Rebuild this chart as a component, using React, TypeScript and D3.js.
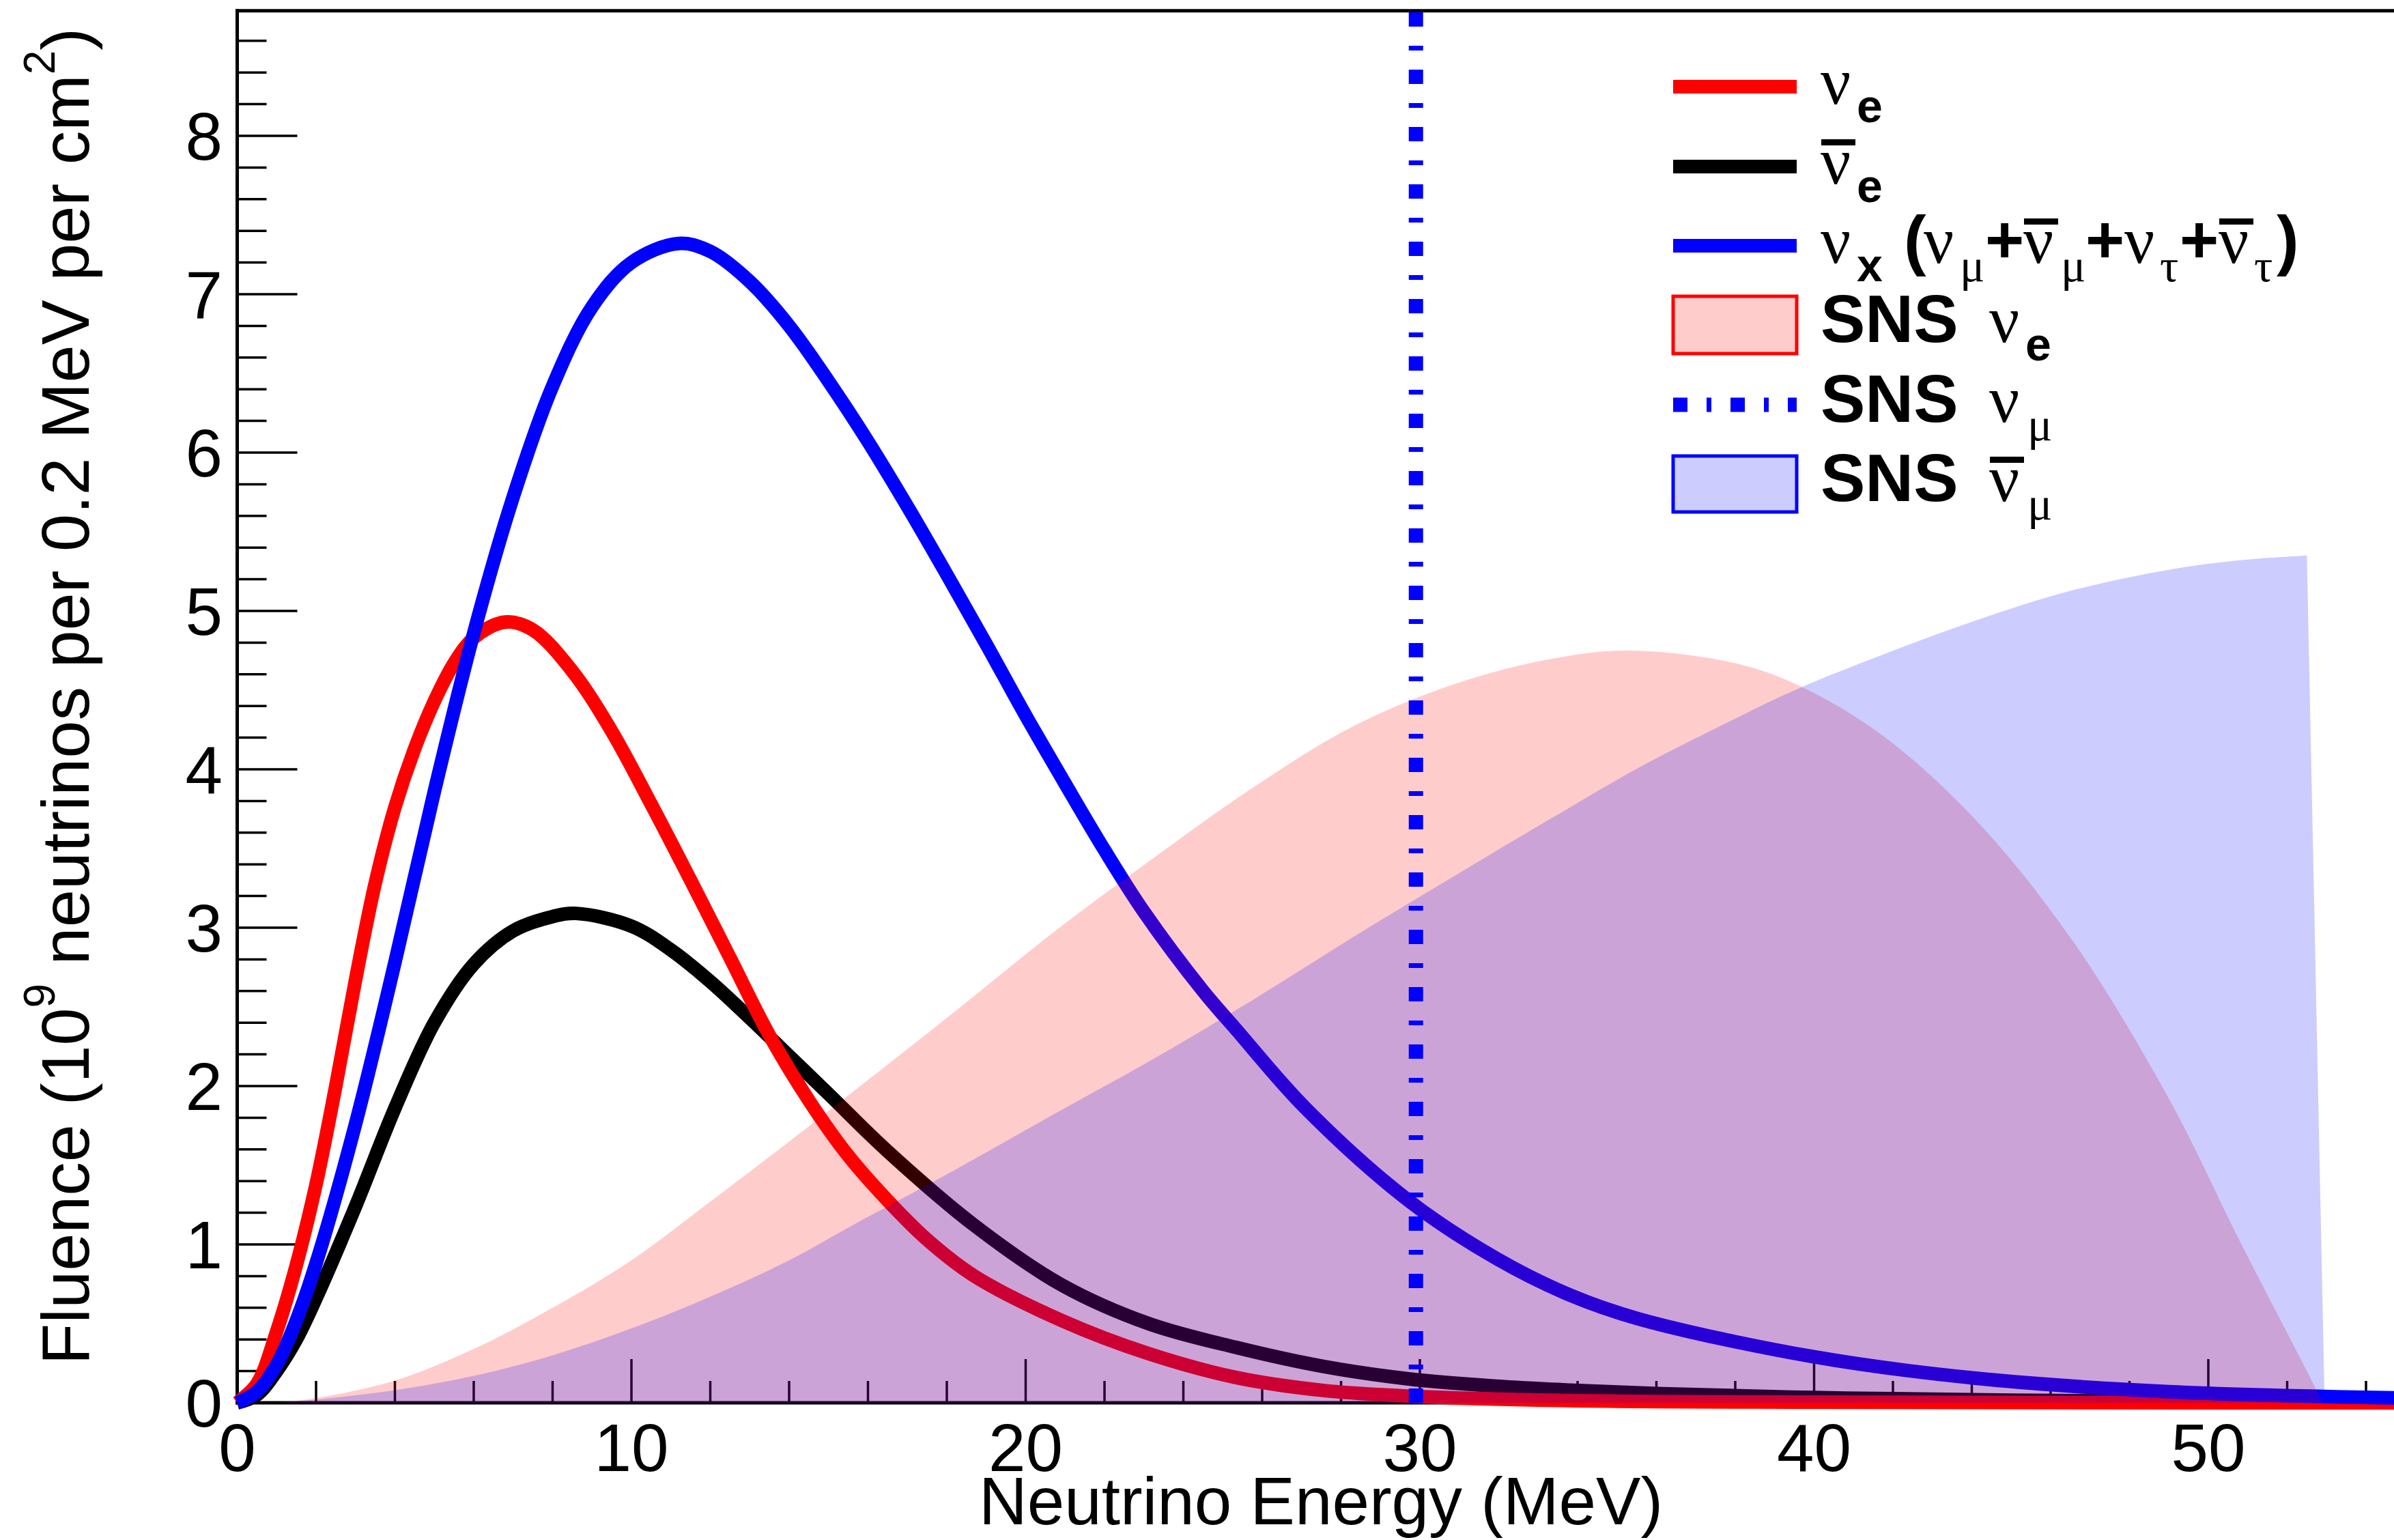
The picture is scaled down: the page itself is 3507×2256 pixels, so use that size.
import React from 'react';
import * as d3 from 'd3';

const W = 3507;
const H = 2256;

// Supernova spectra (Fluence in 10^9 per 0.2 MeV per cm^2)
const nueE = [0, 0.5, 1, 1.5, 2, 2.5, 3, 3.5, 4, 4.5, 5, 5.5, 6, 6.8, 7.5, 8.5, 9.5, 10.5, 11.5, 12.5, 13.5, 14.5, 15.5, 16.49, 17.5, 18.7, 20.91, 23.12, 25.33, 27.54, 29.75, 33.81, 40, 55];
const nueV = [0, 0.12, 0.45, 0.87, 1.38, 2.0, 2.67, 3.28, 3.76, 4.13, 4.43, 4.67, 4.83, 4.93, 4.88, 4.62, 4.24, 3.78, 3.3, 2.81, 2.32, 1.91, 1.56, 1.28, 1.03, 0.8, 0.52, 0.31, 0.16, 0.078, 0.042, 0.014, 0.004, 0];

const nuebarE = [0, 0.5, 1, 1.5, 2, 3, 4, 5, 6, 7, 8, 8.6, 10, 11, 12, 13, 14, 15, 16.49, 18.7, 20.91, 23.12, 25.33, 27.54, 29.75, 31.95, 33.81, 36, 40, 45, 55];
const nuebarV = [0, 0.05, 0.2, 0.4, 0.66, 1.24, 1.86, 2.4, 2.77, 2.98, 3.07, 3.09, 3.01, 2.86, 2.66, 2.43, 2.19, 1.95, 1.59, 1.12, 0.745, 0.5, 0.35, 0.23, 0.15, 0.105, 0.08, 0.058, 0.033, 0.016, 0.004];

const nuxE = [0, 0.5, 1, 1.5, 2, 3, 4, 5, 6, 7, 8, 9, 10, 11.2, 12, 13, 14, 15, 16, 17, 18, 19, 20, 21, 22, 23, 24.5, 25.33, 27.1, 29.75, 31.95, 33.81, 35.55, 40, 44.1, 49, 55];
const nuxV = [0, 0.07, 0.24, 0.52, 0.88, 1.76, 2.78, 3.86, 4.86, 5.72, 6.42, 6.92, 7.2, 7.32, 7.27, 7.08, 6.8, 6.45, 6.07, 5.66, 5.23, 4.79, 4.34, 3.91, 3.49, 3.1, 2.6, 2.36, 1.86, 1.27, 0.91, 0.68, 0.53, 0.29, 0.155, 0.07, 0.03];

// SNS spectra
const snsNueE = [1, 2, 4, 6, 8, 10, 12, 14, 15.6, 18.2, 20.7, 23.3, 25.8, 28.3, 30.9, 33.4, 35.3, 38, 39.6, 41.7, 44.1, 46.55, 49, 50.8, 52.5, 52.9];
const snsNueV = [0, 0.03, 0.14, 0.34, 0.6, 0.9, 1.27, 1.65, 1.96, 2.47, 2.97, 3.45, 3.89, 4.27, 4.54, 4.7, 4.75, 4.67, 4.53, 4.22, 3.68, 2.92, 1.92, 1.02, 0.2, 0];

const snsNumubarE = [1, 2, 4, 6, 8, 10, 12, 14, 15.6, 18.2, 20.7, 23.3, 25.8, 28.3, 30.9, 33.4, 35.55, 38, 39.6, 41.7, 44.1, 46.55, 49, 50.8, 52.5, 52.95];
const snsNumubarV = [0, 0.02, 0.08, 0.17, 0.3, 0.47, 0.67, 0.9, 1.12, 1.47, 1.82, 2.18, 2.55, 2.94, 3.33, 3.7, 4.01, 4.32, 4.51, 4.72, 4.94, 5.13, 5.26, 5.32, 5.35, 0];

const snsNumuE = 29.9;

const xTickLabels = ['0', '10', '20', '30', '40', '50'];
const yTickLabels = ['0', '1', '2', '3', '4', '5', '6', '7', '8'];

const SANS = '"Liberation Sans", Arial, Helvetica, sans-serif';
const SERIF = '"Liberation Serif", "Times New Roman", serif';
const FS = 98;
const SUB = 68;
const DASH = '21 28 7 28';

type Piece = { t: string; x: number; k: 'g' | 'b' | 'sb' | 'sg'; bar?: boolean };

const legendEntries: Piece[][] = [
  [
    { t: 'ν', x: 2667, k: 'g' },
    { t: 'e', x: 2720, k: 'sb' },
  ],
  [
    { t: 'ν', x: 2667, k: 'g', bar: true },
    { t: 'e', x: 2720, k: 'sb' },
  ],
  [
    { t: 'ν', x: 2667, k: 'g' },
    { t: 'x', x: 2720, k: 'sb' },
    { t: '(', x: 2789, k: 'b' },
    { t: 'ν', x: 2818, k: 'g' },
    { t: 'μ', x: 2871, k: 'sg' },
    { t: '+', x: 2908, k: 'b' },
    { t: 'ν', x: 2964, k: 'g', bar: true },
    { t: 'μ', x: 3019, k: 'sg' },
    { t: '+', x: 3055, k: 'b' },
    { t: 'ν', x: 3112, k: 'g' },
    { t: 'τ', x: 3164, k: 'sg' },
    { t: '+', x: 3193, k: 'b' },
    { t: 'ν', x: 3250, k: 'g', bar: true },
    { t: 'τ', x: 3302, k: 'sg' },
    { t: ')', x: 3335, k: 'b' },
  ],
  [
    { t: 'SNS', x: 2667, k: 'b' },
    { t: 'ν', x: 2914, k: 'g' },
    { t: 'e', x: 2967, k: 'sb' },
  ],
  [
    { t: 'SNS', x: 2667, k: 'b' },
    { t: 'ν', x: 2914, k: 'g' },
    { t: 'μ', x: 2970, k: 'sg' },
  ],
  [
    { t: 'SNS', x: 2667, k: 'b' },
    { t: 'ν', x: 2914, k: 'g', bar: true },
    { t: 'μ', x: 2970, k: 'sg' },
  ],
];

export default function App() {
  const x = d3.scaleLinear().domain([0, 55]).range([347.5, 347.5 + 55 * 57.75]);
  const y = d3.scaleLinear().domain([0, 8.79]).range([2055, 2055 - 8.79 * 232]);

  const line = d3
    .line<[number, number]>()
    .x((d) => x(d[0]))
    .y((d) => y(d[1]))
    .curve(d3.curveCatmullRom.alpha(0.5));

  const zip = (a: number[], b: number[]) => a.map((v, i) => [v, b[i]] as [number, number]);

  const fillPath = (E: number[], V: number[], smoothN: number) => {
    const pts = zip(E, V);
    let p = line(pts.slice(0, smoothN)) || '';
    for (let i = smoothN; i < pts.length; i++) p += `L${x(pts[i][0])},${y(pts[i][1])}`;
    p += `L${x(E[E.length - 1])},${y(0)}L${x(E[0])},${y(0)}Z`;
    return p;
  };

  const xMajor = d3.range(0, 56, 10);
  const xMinor = d3.range(0, 56, 2).filter((v) => v % 10 !== 0);
  const yMajor = d3.range(0, 9, 1);
  const yMinor = d3.range(0, 8.79, 0.2).filter((v) => Math.abs(v - Math.round(v)) > 0.01);

  const x0 = x(0);
  const y0 = y(0);
  const yTop = y(8.79);

  const legX1 = 2451;
  const legX2 = 2632;
  const legY = [127, 244, 360, 476, 593, 709];
  const base = (i: number) => legY[i] + 25;

  const renderPiece = (p: Piece, bl: number, key: string) => {
    const isSub = p.k === 'sb' || p.k === 'sg';
    const isGreek = p.k === 'g' || p.k === 'sg';
    return (
      <g key={key}>
        <text
          x={p.x}
          y={isSub ? bl + 27 : bl}
          fontFamily={isGreek ? SERIF : SANS}
          fontWeight={isGreek ? 'normal' : 'bold'}
          fontSize={isSub ? SUB : FS}
        >
          {p.t}
        </text>
        {p.bar ? <rect x={p.x + 1} y={bl - 65} width={50} height={9} fill="#000" /> : null}
      </g>
    );
  };

  return (
    <svg width={W} height={H} style={{ position: 'absolute', left: 0, top: 0, background: '#fff' }}>
      <rect x={0} y={0} width={W} height={H} fill="#fff" />

      {/* ticks */}
      <g stroke="#000" strokeWidth={3.5}>
        {xMajor.map((v) => (
          <line key={'xM' + v} x1={x(v)} x2={x(v)} y1={y0} y2={y0 - 64} />
        ))}
        {xMinor.map((v) => (
          <line key={'xm' + v} x1={x(v)} x2={x(v)} y1={y0} y2={y0 - 32} />
        ))}
        {yMajor.map((v) => (
          <line key={'yM' + v} x1={x0} x2={x0 + 88} y1={y(v)} y2={y(v)} />
        ))}
        {yMinor.map((v) => (
          <line key={'ym' + v.toFixed(1)} x1={x0} x2={x0 + 43} y1={y(v)} y2={y(v)} />
        ))}
      </g>

      {/* frame */}
      <g stroke="#000" strokeWidth={5} fill="none">
        <line x1={x0} x2={x0} y1={yTop - 2.5} y2={y0 + 2.5} />
        <line x1={x0 - 2.5} x2={x(55) + 2.5} y1={y0} y2={y0} />
        <line x1={x0 - 2.5} x2={x(55) + 2.5} y1={yTop} y2={yTop} />
        <line x1={x(55)} x2={x(55)} y1={yTop} y2={y0} />
      </g>

      {/* tick labels */}
      <g fontFamily={SANS} fontSize={FS} fill="#000">
        {xMajor.map((v, i) => (
          <text key={'xl' + v} x={x(v)} y={2155} textAnchor="middle">
            {xTickLabels[i]}
          </text>
        ))}
        {yMajor.map((v, i) => (
          <text key={'yl' + v} x={326} y={y(v) + 35} textAnchor="end">
            {yTickLabels[i]}
          </text>
        ))}
      </g>

      {/* axis titles */}
      <text x={1935} y={2233} textAnchor="middle" fontFamily={SANS} fontSize={FS}>
        Neutrino Energy (MeV)
      </text>
      <text transform="translate(130,1020) rotate(-90)" textAnchor="middle" fontFamily={SANS} fontSize={99}>
        Fluence (10
        <tspan fontSize={64} dy={-50}>
          9
        </tspan>
        <tspan dy={50}> neutrinos per 0.2 MeV per cm</tspan>
        <tspan fontSize={64} dy={-50}>
          2
        </tspan>
        <tspan dy={50}>)</tspan>
      </text>

      {/* supernova curves */}
      <g fill="none" strokeWidth={20} strokeLinejoin="round">
        <path d={line(zip(nuebarE, nuebarV)) || ''} stroke="#000000" />
        <path d={line(zip(nueE, nueV)) || ''} stroke="#ff0000" />
        <path d={line(zip(nuxE, nuxV)) || ''} stroke="#0000ff" />
      </g>

      {/* SNS fills */}
      <path d={fillPath(snsNueE, snsNueV, snsNueE.length)} fill="rgba(255,0,0,0.2)" stroke="none" />
      <path d={fillPath(snsNumubarE, snsNumubarV, snsNumubarE.length - 1)} fill="rgba(0,0,255,0.2)" stroke="none" />

      {/* SNS nu_mu line */}
      <line
        x1={x(snsNumuE)}
        x2={x(snsNumuE)}
        y1={y0}
        y2={yTop + 2}
        stroke="#0000ff"
        strokeWidth={21}
        strokeDasharray={DASH}
      />

      {/* legend symbols */}
      <g>
        <line x1={legX1} x2={legX2} y1={legY[0]} y2={legY[0]} stroke="#ff0000" strokeWidth={20} />
        <line x1={legX1} x2={legX2} y1={legY[1]} y2={legY[1]} stroke="#000000" strokeWidth={20} />
        <line x1={legX1} x2={legX2} y1={legY[2]} y2={legY[2]} stroke="#0000ff" strokeWidth={20} />
        <rect x={legX1} y={legY[3] - 42} width={legX2 - legX1} height={84} fill="rgba(255,0,0,0.2)" stroke="#ff0000" strokeWidth={5} />
        <line x1={legX1} x2={legX2} y1={legY[4]} y2={legY[4]} stroke="#0000ff" strokeWidth={21} strokeDasharray={DASH} />
        <rect x={legX1} y={legY[5] - 41} width={legX2 - legX1} height={82} fill="rgba(0,0,255,0.2)" stroke="#0000ff" strokeWidth={5} />
      </g>

      {/* legend labels */}
      <g fill="#000">
        {legendEntries.map((entry, i) => (
          <g key={'le' + i}>{entry.map((p, j) => renderPiece(p, base(i), `p${i}-${j}`))}</g>
        ))}
      </g>
    </svg>
  );
}
